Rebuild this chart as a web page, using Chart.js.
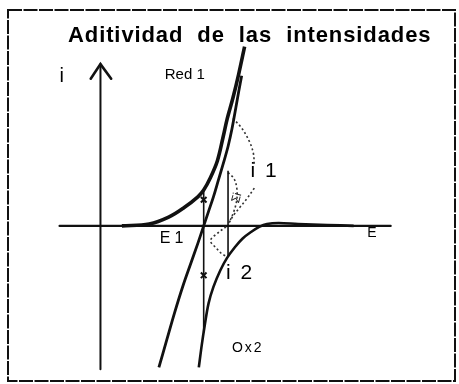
<!DOCTYPE html>
<html>
<head>
<meta charset="utf-8">
<title>Aditividad de las intensidades</title>
<script src="https://cdn.jsdelivr.net/npm/chart.js@4/dist/chart.umd.min.js"></script>
<style>
  html, body { margin: 0; padding: 0; background: #fff; }
  #wrap { width: 459px; height: 384px; position: relative; }
</style>
</head>
<body>
<div id="wrap"><canvas id="c" width="459" height="384"></canvas></div>
<script>
// Potential E (arbitrary units) and current i for each curve
const red1E = [2.2, 5.0, 7.0, 8.6, 10.0, 10.6, 11.3, 12.0, 12.6, 13.0, 13.6, 14.2, 14.8];
const red1I = [0.0, 0.2, 0.9, 1.9, 3.0, 3.7, 5.0, 6.7, 9.2, 11.0, 13.2, 15.7, 18.5];

const ox2E = [10.1, 10.4, 10.7, 11.1, 11.6, 12.3, 13.0, 13.8, 14.6, 15.5, 16.3, 17.1, 18.3, 20.3, 23.3, 26.0];
const ox2I = [-14.6, -12.3, -10.3, -8.0, -6.3, -4.6, -3.3, -2.2, -1.3, -0.6, -0.1, 0.2, 0.3, 0.2, 0.1, 0.0];

const sumE = [6.0, 6.8, 7.6, 8.5, 9.3, 10.0, 10.6, 11.1, 11.6, 12.1, 12.6, 13.1, 13.5, 13.9, 14.2, 14.5];
const sumI = [-14.6, -11.8, -9.0, -6.1, -3.8, -1.8, 0.0, 1.5, 3.0, 4.7, 6.4, 8.2, 10.0, 12.2, 13.9, 15.5];

// Equilibrium potential E1 and the chosen potential E
const E1 = 10.6;
const E1Span = [3.7, -11.0];
const E1Marks = [2.7, -5.1];
const Ea = 13.1;
const EaSpan = [5.7, -3.1];

// Brace curves for i1, the sum and i2
const braceI1E = [13.6, 14.5, 15.3, 15.7, 15.8];
const braceI1I = [11.1, 10.1, 8.7, 7.5, 6.2];
const braceI1bE = [15.8, 15.1, 14.3, 13.6, 13.1];
const braceI1bI = [3.9, 2.9, 1.9, 1.0, 0.1];
const braceSumE = [13.1, 13.7, 14.0, 14.0, 13.7, 13.2];
const braceSumI = [5.5, 4.9, 3.9, 2.7, 1.5, 0.3];
const braceI2E = [12.9, 12.1, 11.3, 11.9, 12.5, 13.1];
const braceI2I = [-0.1, -0.7, -1.5, -2.3, -2.9, -3.2];

// Axes extent and arrow head
const axisE = [-4.2, 29.8];
const axisI = [-14.8, 16.7];
const arrowE = [-1.0, 0.0, 1.1];
const arrowI = [15.2, 16.7, 15.2];

// Text labels
const labels = [
  { text: 'i',     e: -4.2, i: 14.9, font: '20px "Liberation Sans", Arial, sans-serif', spacing: 0 },
  { text: 'Red 1', e: 6.6,  i: 15.2, font: '15px "Liberation Sans", Arial, sans-serif', spacing: 0 },
  { text: 'E1',    e: 6.1,  i: -1.8, font: '16px "Liberation Sans", Arial, sans-serif', spacing: 4 },
  { text: 'E',     e: 27.4, i: -1.1, font: '14px "Liberation Sans", Arial, sans-serif', spacing: 0 },
  { text: 'i 1',   e: 15.4, i: 5.0,  font: '21px "Liberation Sans", Arial, sans-serif', spacing: 2 },
  { text: 'i 2',   e: 12.9, i: -5.5, font: '21px "Liberation Sans", Arial, sans-serif', spacing: 2 },
  { text: 'Ox2',   e: 13.5, i: -13.0, font: '14px "Liberation Sans", Arial, sans-serif', spacing: 2 }
];
const sumLabel = { text: '\u03A3i', e: 14.0, i: 2.9 };
const titleText = 'Aditividad de las intensidades';

const pts = (xs, ys) => xs.map((x, k) => ({ x, y: ys[k] }));

const line = (data, width, extra) => Object.assign({
  data, showLine: true, borderColor: '#111', borderWidth: width,
  pointRadius: 0, tension: 0.35, fill: false
}, extra || {});

const dotted = data => line(data, 1.6, { borderDash: [2, 2.5], borderColor: '#333' });

const frameAndText = {
  id: 'frameAndText',
  beforeDatasetsDraw(chart) {
    const { ctx, scales: { x, y } } = chart;
    ctx.save();
    ctx.strokeStyle = '#111';
    ctx.lineCap = 'round';
    ctx.lineWidth = 2.2;
    // horizontal E axis
    ctx.beginPath();
    ctx.moveTo(x.getPixelForValue(axisE[0]), y.getPixelForValue(0));
    ctx.lineTo(x.getPixelForValue(axisE[1]), y.getPixelForValue(0));
    ctx.stroke();
    // vertical i axis with arrow
    ctx.lineWidth = 2;
    ctx.beginPath();
    ctx.moveTo(x.getPixelForValue(0), y.getPixelForValue(axisI[0]));
    ctx.lineTo(x.getPixelForValue(0), y.getPixelForValue(axisI[1]));
    ctx.stroke();
    ctx.lineWidth = 2.6;
    ctx.beginPath();
    arrowE.forEach((e, k) => {
      const px = x.getPixelForValue(e), py = y.getPixelForValue(arrowI[k]);
      if (k === 0) ctx.moveTo(px, py); else ctx.lineTo(px, py);
    });
    ctx.stroke();
    ctx.restore();
  },
  afterDraw(chart) {
    const { ctx, scales: { x, y } } = chart;
    ctx.save();
    // dashed frame
    ctx.strokeStyle = '#111';
    ctx.lineWidth = 2;
    ctx.setLineDash([14, 1.5]);
    ctx.strokeRect(8, 10, 447, 371);
    ctx.setLineDash([]);
    ctx.fillStyle = '#000';
    ctx.textBaseline = 'alphabetic';
    // title
    ctx.font = 'bold 22px "Liberation Sans", Arial, sans-serif';
    ctx.textAlign = 'left';
    if ('wordSpacing' in ctx) ctx.wordSpacing = '7px';
    if ('letterSpacing' in ctx) ctx.letterSpacing = '0.9px';
    ctx.fillText(titleText, 68, 42);
    if ('wordSpacing' in ctx) ctx.wordSpacing = '0px';
    // labels
    labels.forEach(l => {
      ctx.font = l.font;
      if ('letterSpacing' in ctx) ctx.letterSpacing = l.spacing + 'px';
      ctx.fillText(l.text, x.getPixelForValue(l.e), y.getPixelForValue(l.i));
    });
    if ('letterSpacing' in ctx) ctx.letterSpacing = '0px';
    // rotated sum label
    ctx.translate(x.getPixelForValue(sumLabel.e), y.getPixelForValue(sumLabel.i));
    ctx.rotate(-1.3);
    ctx.font = '12px "Liberation Sans", Arial, sans-serif';
    ctx.textAlign = 'center';
    ctx.textBaseline = 'middle';
    ctx.fillStyle = '#222';
    ctx.fillText(sumLabel.text, 0, 0);
    ctx.restore();
  }
};

new Chart(document.getElementById('c'), {
  type: 'scatter',
  data: {
    datasets: [
      line(pts(red1E, red1I), 3.6),
      line(pts(sumE, sumI), 2.8),
      line(pts(ox2E, ox2I), 2.6),
      line([{ x: E1, y: E1Span[0] }, { x: E1, y: E1Span[1] }], 1.6, { tension: 0 }),
      line([{ x: Ea, y: EaSpan[0] }, { x: Ea, y: EaSpan[1] }], 1.6, { tension: 0 }),
      {
        data: E1Marks.map(v => ({ x: E1, y: v })),
        showLine: false, pointStyle: 'crossRot', pointRadius: 4,
        borderColor: '#111', borderWidth: 2
      },
      dotted(pts(braceI1E, braceI1I)),
      dotted(pts(braceI1bE, braceI1bI)),
      dotted(pts(braceSumE, braceSumI)),
      dotted(pts(braceI2E, braceI2I))
    ]
  },
  options: {
    responsive: false,
    animation: false,
    layout: { padding: 0 },
    plugins: { legend: { display: false }, tooltip: { enabled: false }, title: { display: false } },
    scales: {
      x: { type: 'linear', display: false, min: -9.7, max: 36.2 },
      y: { type: 'linear', display: false, min: -15.7, max: 22.7 }
    }
  },
  plugins: [frameAndText]
});
</script>
</body>
</html>
